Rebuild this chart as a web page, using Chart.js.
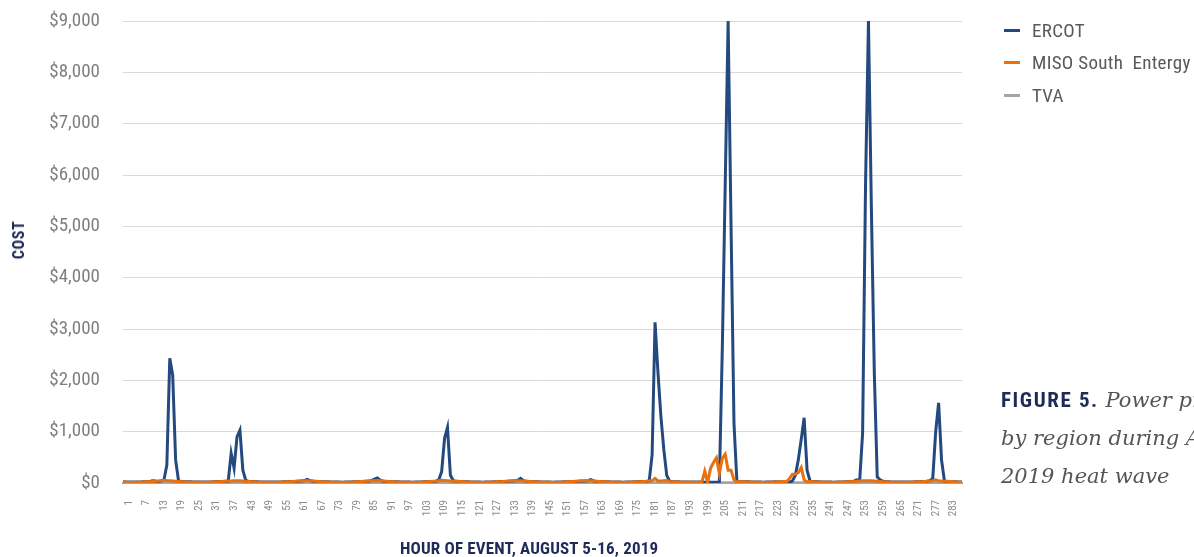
<!DOCTYPE html>
<html>
<head>
<meta charset="utf-8">
<script src="https://cdn.jsdelivr.net/npm/chart.js@4.4.1/dist/chart.umd.min.js"></script>
<style>
  html, body { margin: 0; padding: 0; background: #fff; overflow: hidden; }
  #wrap { position: relative; width: 1194px; height: 557px; overflow: hidden; }
  #chart { position: absolute; left: 0; top: 0; }
  .leg { position: absolute; left: 1004px; height: 24px; display: flex; align-items: center;
         font-family: "Roboto Condensed", sans-serif; font-size: 19px;
         letter-spacing: 0.3px; color: #595959; white-space: pre; }
  .leg i { display: inline-block; width: 16px; height: 3px; margin-right: 12px; }
  #caption { position: absolute; left: 1001px; top: 381px; line-height: 38px; white-space: nowrap;
             font-family: "DejaVu Serif", serif; font-style: italic; font-size: 21px; color: #555; }
  #caption b { font-family: "Roboto Condensed", sans-serif; font-style: normal; letter-spacing: 1.6px;
               font-weight: bold; font-size: 21px; color: #1f2b57; }
  .axis-title { position: absolute; font-family: "Roboto Condensed", sans-serif; font-weight: bold;
                color: #1f2b57; white-space: nowrap; line-height: 20px; }
  #xtitle { left: 400px; top: 538px; width: 258px; text-align: center; font-size: 17px; letter-spacing: 0.15px; }
  #ytitle { left: 19px; top: 240px; font-size: 16px; letter-spacing: 0.6px;
            transform: translate(-50%, -50%) rotate(-90deg); }
</style>
</head>
<body>
<div id="wrap">
  <canvas id="chart" width="1194" height="557"></canvas>
  <div class="axis-title" id="ytitle">COST</div>
  <div class="axis-title" id="xtitle">HOUR OF EVENT, AUGUST 5-16, 2019</div>
  <div class="leg" style="top:18px"><i style="background:#24497f"></i>ERCOT</div>
  <div class="leg" style="top:50px"><i style="background:#e8700f"></i>MISO South  Entergy</div>
  <div class="leg" style="top:83px"><i style="background:#a5a5a5"></i>TVA</div>
  <div id="caption"><b>FIGURE 5.</b> Power prices<br>by region during August<br>2019 heat wave</div>
</div>
<script>
// hours of the event, Aug 5-16 2019
var hours = [
  1, 2, 3, 4, 5, 6, 7, 8, 9, 10, 11, 12, 13, 14, 15, 16, 17, 18, 19, 20, 21, 22, 23, 24,
  25, 26, 27, 28, 29, 30, 31, 32, 33, 34, 35, 36, 37, 38, 39, 40, 41, 42, 43, 44, 45, 46, 47, 48,
  49, 50, 51, 52, 53, 54, 55, 56, 57, 58, 59, 60, 61, 62, 63, 64, 65, 66, 67, 68, 69, 70, 71, 72,
  73, 74, 75, 76, 77, 78, 79, 80, 81, 82, 83, 84, 85, 86, 87, 88, 89, 90, 91, 92, 93, 94, 95, 96,
  97, 98, 99, 100, 101, 102, 103, 104, 105, 106, 107, 108, 109, 110, 111, 112, 113, 114, 115, 116, 117, 118, 119, 120,
  121, 122, 123, 124, 125, 126, 127, 128, 129, 130, 131, 132, 133, 134, 135, 136, 137, 138, 139, 140, 141, 142, 143, 144,
  145, 146, 147, 148, 149, 150, 151, 152, 153, 154, 155, 156, 157, 158, 159, 160, 161, 162, 163, 164, 165, 166, 167, 168,
  169, 170, 171, 172, 173, 174, 175, 176, 177, 178, 179, 180, 181, 182, 183, 184, 185, 186, 187, 188, 189, 190, 191, 192,
  193, 194, 195, 196, 197, 198, 199, 200, 201, 202, 203, 204, 205, 206, 207, 208, 209, 210, 211, 212, 213, 214, 215, 216,
  217, 218, 219, 220, 221, 222, 223, 224, 225, 226, 227, 228, 229, 230, 231, 232, 233, 234, 235, 236, 237, 238, 239, 240,
  241, 242, 243, 244, 245, 246, 247, 248, 249, 250, 251, 252, 253, 254, 255, 256, 257, 258, 259, 260, 261, 262, 263, 264,
  265, 266, 267, 268, 269, 270, 271, 272, 273, 274, 275, 276, 277, 278, 279, 280, 281, 282, 283, 284, 285, 286, 287, 288
];

var tickLabels = [1, 7, 13, 19, 25, 31, 37, 43, 49, 55, 61, 67, 73, 79, 85, 91, 97, 103, 109, 115,
  121, 127, 133, 139, 145, 151, 157, 163, 169, 175, 181, 187, 193, 199, 205, 211, 217, 223, 229, 235,
  241, 247, 253, 259, 265, 271, 277, 283];

var ercot = [
  22, 20, 19, 18, 18, 19, 21, 23, 25, 28, 45, 38, 30, 40, 60, 350, 2430, 2100, 450, 40, 30, 26, 24, 22,
  21, 20, 19, 18, 18, 19, 21, 23, 25, 27, 29, 32, 35, 580, 290, 900, 1030, 250, 50, 30, 27, 25, 23, 21,
  20, 19, 18, 18, 18, 19, 21, 23, 25, 27, 29, 31, 34, 38, 48, 72, 45, 33, 29, 27, 25, 23, 22, 20,
  19, 18, 18, 17, 18, 19, 21, 23, 25, 27, 29, 32, 36, 48, 75, 100, 55, 35, 29, 27, 25, 23, 22, 20,
  19, 18, 18, 17, 18, 19, 21, 23, 25, 27, 30, 35, 60, 220, 870, 1080, 150, 45, 32, 28, 25, 23, 22, 20,
  19, 18, 18, 17, 18, 19, 21, 23, 25, 27, 29, 31, 34, 38, 45, 55, 90, 45, 32, 27, 25, 23, 22, 20,
  19, 18, 18, 17, 18, 19, 21, 23, 25, 27, 29, 31, 33, 36, 40, 45, 65, 40, 31, 27, 25, 23, 22, 20,
  19, 18, 18, 17, 18, 19, 21, 23, 25, 27, 29, 31, 40, 550, 3130, 2150, 1300, 650, 150, 35, 28, 25, 23, 21,
  20, 19, 18, 18, 18, 19, 18, 17, 16, 15, 15, 16, 20, 2600, 5800, 9000, 5000, 1160, 30, 26, 24, 23, 22, 20,
  19, 18, 18, 17, 18, 19, 21, 23, 22, 20, 18, 16, 15, 40, 150, 450, 850, 1270, 250, 40, 27, 24, 22, 20,
  19, 18, 18, 17, 18, 19, 21, 23, 25, 28, 35, 60, 50, 970, 5800, 9000, 5350, 2150, 120, 60, 32, 25, 23, 21,
  20, 19, 18, 18, 18, 19, 21, 23, 25, 27, 30, 35, 45, 90, 1000, 1560, 450, 35, 28, 25, 23, 22, 21, 20
];

var miso = [
  14, 13, 12, 12, 12, 13, 15, 18, 22, 26, 30, 34, 37, 42, 55, 48, 44, 40, 36, 31, 26, 21, 18, 16,
  15, 14, 13, 12, 12, 13, 15, 18, 22, 26, 30, 34, 38, 41, 43, 44, 42, 38, 33, 28, 24, 20, 17, 15,
  14, 13, 12, 12, 12, 13, 15, 18, 22, 26, 31, 35, 39, 42, 45, 46, 44, 40, 35, 30, 25, 21, 18, 16,
  14, 13, 12, 12, 12, 13, 15, 18, 23, 27, 31, 35, 39, 43, 46, 47, 45, 41, 36, 30, 25, 21, 18, 16,
  15, 14, 13, 12, 12, 13, 15, 19, 23, 28, 33, 38, 45, 52, 48, 44, 40, 36, 32, 28, 24, 21, 18, 16,
  14, 13, 12, 12, 12, 13, 15, 18, 22, 26, 30, 34, 38, 42, 45, 46, 44, 40, 35, 30, 25, 21, 18, 16,
  15, 14, 13, 12, 12, 13, 16, 19, 23, 27, 31, 35, 39, 43, 46, 47, 45, 41, 36, 31, 26, 22, 19, 17,
  15, 14, 13, 12, 12, 13, 15, 18, 22, 26, 30, 34, 40, 45, 90, 40, 38, 45, 50, 30, 25, 21, 18, 16,
  15, 14, 13, 12, 12, 13, 10, 230, 10, 290, 400, 490, 190, 480, 560, 250, 250, 60, 20, 25, 22, 20, 18, 16,
  15, 14, 13, 12, 12, 13, 15, 18, 22, 26, 28, 25, 90, 170, 170, 200, 300, 60, 25, 30, 26, 21, 18, 16,
  15, 14, 13, 12, 12, 13, 15, 18, 22, 26, 30, 34, 38, 42, 45, 46, 44, 40, 35, 30, 25, 21, 18, 16,
  15, 14, 13, 12, 12, 13, 15, 18, 22, 26, 30, 34, 38, 45, 60, 40, 38, 35, 32, 28, 24, 20, 17, 15
];

var tva = [
  2, 2, 1, 1, 1, 1, 2, 2, 3, 3, 3, 4, 4, 4, 4, 4, 4, 3, 3, 3, 2, 2, 2, 2,
  2, 2, 1, 1, 1, 1, 2, 2, 3, 3, 3, 4, 4, 4, 4, 4, 4, 3, 3, 3, 2, 2, 2, 2,
  2, 1, 1, 1, 1, 1, 2, 2, 3, 3, 4, 4, 4, 4, 5, 5, 4, 4, 3, 3, 2, 2, 2, 2,
  2, 1, 1, 1, 1, 1, 2, 2, 3, 3, 4, 4, 4, 4, 5, 5, 4, 4, 3, 3, 2, 2, 2, 2,
  2, 2, 1, 1, 1, 1, 2, 2, 3, 3, 3, 4, 4, 4, 4, 4, 4, 3, 3, 3, 2, 2, 2, 2,
  2, 2, 1, 1, 1, 1, 2, 2, 3, 3, 3, 4, 4, 4, 4, 4, 4, 3, 3, 3, 2, 2, 2, 2,
  2, 1, 1, 1, 1, 1, 2, 2, 3, 3, 4, 4, 4, 4, 5, 5, 4, 4, 3, 3, 2, 2, 2, 2,
  2, 2, 1, 1, 1, 1, 2, 2, 3, 3, 3, 4, 4, 5, 6, 5, 4, 4, 3, 3, 2, 2, 2, 2,
  2, 2, 1, 1, 1, 1, 2, 3, 3, 4, 5, 6, 5, 6, 6, 5, 5, 4, 3, 3, 2, 2, 2, 2,
  2, 2, 1, 1, 1, 1, 2, 2, 3, 3, 3, 4, 5, 5, 5, 5, 5, 4, 3, 3, 2, 2, 2, 2,
  2, 1, 1, 1, 1, 1, 2, 2, 3, 3, 4, 4, 4, 4, 5, 5, 4, 4, 3, 3, 2, 2, 2, 2,
  2, 2, 1, 1, 1, 1, 2, 2, 3, 3, 3, 4, 4, 4, 4, 4, 4, 3, 3, 3, 2, 2, 2, 2
];

var narrow = "'Roboto Condensed', sans-serif";

var ctx = document.getElementById("chart").getContext("2d");

new Chart(ctx, {
  type: "line",
  data: {
    labels: hours,
    datasets: [
      { label: "ERCOT", data: ercot, borderColor: "#24497f", borderWidth: 3, order: 1 },
      { label: "MISO South  Entergy", data: miso, borderColor: "#e8700f", borderWidth: 3, order: 0 },
      { label: "TVA", data: tva, borderColor: "#a5a5a5", borderWidth: 3, order: 2 }
    ]
  },
  options: {
    responsive: false,
    animation: false,
    elements: { point: { radius: 0 }, line: { tension: 0 } },
    layout: { padding: { left: 0, right: 232, top: 21, bottom: 0 } },
    plugins: { legend: { display: false }, tooltip: { enabled: false } },
    scales: {
      x: {
        grid: { display: false, drawTicks: false },
        border: { display: true, color: "#a6a6a6", width: 2 },
        ticks: {
          autoSkip: false,
          minRotation: 90,
          maxRotation: 90,
          labelOffset: 6,
          padding: 17,
          color: "#8c8c8c",
          font: { family: narrow, size: 11 },
          callback: function (value, index) {
            var h = hours[index];
            return tickLabels.indexOf(h) >= 0 ? String(h) : "";
          }
        },
        afterFit: function (scale) { scale.height = 74; }
      },
      y: {
        min: 0,
        max: 9000,
        // transparent tick marks give the gap between labels and plot
        grid: { color: "#d9d9d9", lineWidth: 1, drawTicks: true, tickLength: 23, tickColor: "rgba(0,0,0,0)" },
        border: { display: false },
        ticks: {
          stepSize: 1000,
          padding: 0,
          color: "#7f7f7f",
          font: { family: narrow, size: 19 },
          callback: function (v) { return "$" + v.toLocaleString("en-US"); }
        },
        afterFit: function (scale) { scale.width = 123; }
      }
    }
  }
});
</script>
</body>
</html>
